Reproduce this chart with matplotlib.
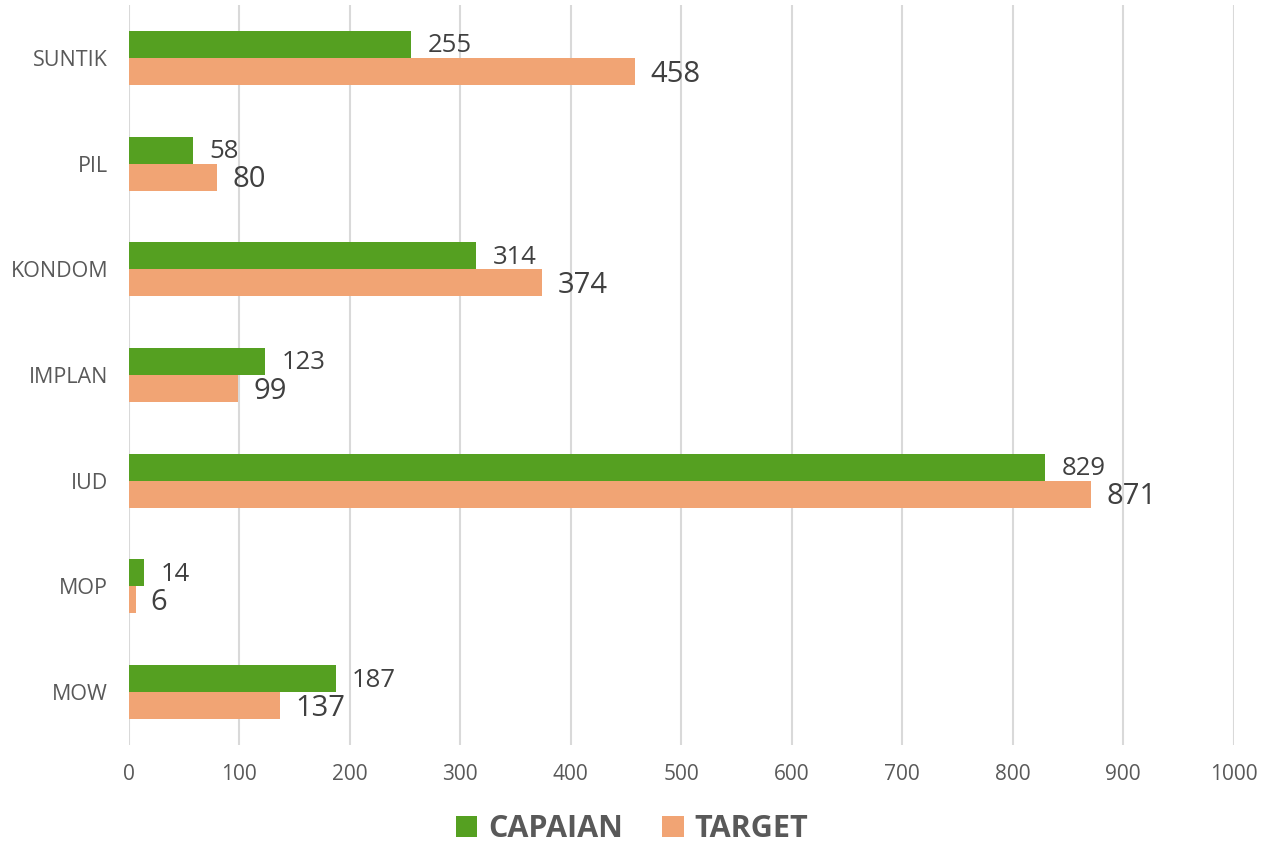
import matplotlib
matplotlib.use("Agg")
import matplotlib.pyplot as plt
import numpy as np

categories = ["SUNTIK", "PIL", "KONDOM", "IMPLAN", "IUD", "MOP", "MOW"]
capaian = [255, 58, 314, 123, 829, 14, 187]
target = [458, 80, 374, 99, 871, 6, 137]
xticks = [0, 100, 200, 300, 400, 500, 600, 700, 800, 900, 1000]

plt.rcParams['font.family'] = ['Open Sans', 'DejaVu Sans']

green = "#55A021"
orange = "#F1A474"
txt = "#595959"
lbl = "#404040"

fig = plt.figure(figsize=(12.64, 8.48), dpi=100)
ax = fig.add_axes([0.102, 0.1215, 0.874, 0.8725])

n = len(categories)
y = np.arange(n)
h = 0.255
bg = ax.barh(y - h/2, capaian, height=h, color=green, label="CAPAIAN", zorder=3)
bo = ax.barh(y + h/2, target, height=h, color=orange, label="TARGET", zorder=3)

for b, v in zip(bg, capaian):
    ax.annotate(str(v), (b.get_width(), b.get_y() + b.get_height()/2),
                xytext=(12, -1), textcoords="offset points", va="center", ha="left",
                fontsize=18.5, color=lbl)
for b, v in zip(bo, target):
    ax.annotate(str(v), (b.get_width(), b.get_y() + b.get_height()/2),
                xytext=(11, -2), textcoords="offset points", va="center", ha="left",
                fontsize=21, color=lbl)

ax.set_ylim(n - 0.5, -0.5)
ax.set_xlim(0, 1000)
ax.set_yticks(y)
ax.set_yticklabels(categories, fontsize=15.5, color=txt)
ax.set_xticks(xticks)
ax.set_xticklabels([str(t) for t in xticks], fontsize=15, color=txt)
ax.tick_params(axis="x", length=0, pad=14)
ax.tick_params(axis="y", length=0, pad=15)
ax.grid(axis="x", color="#D9D9D9", linewidth=1.5, zorder=0)
for s in ax.spines.values():
    s.set_visible(False)

leg = fig.legend(handles=[bg, bo], labels=["CAPAIAN", "TARGET"], loc="center",
                 bbox_to_anchor=(0.5, 0.022), ncol=2, frameon=False,
                 prop={"size": 22, "weight": "bold"}, handlelength=0.7, handleheight=0.7,
                 handletextpad=0.35, columnspacing=1.3)
for t in leg.get_texts():
    t.set_color(txt)

fig.savefig("out.png", dpi=100)
